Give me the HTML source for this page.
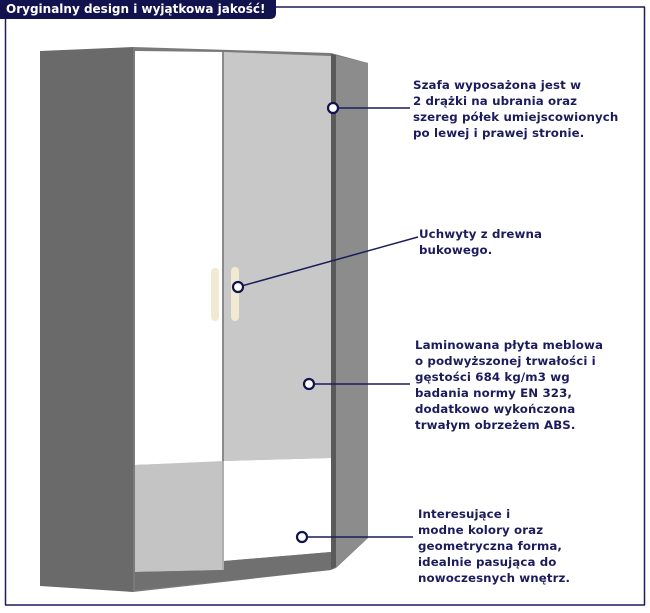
<!DOCTYPE html>
<html><head><meta charset="utf-8"><style>
html,body{margin:0;padding:0;background:#fff;}
body{width:650px;height:613px;position:relative;overflow:hidden;font-family:"DejaVu Sans","Liberation Sans",sans-serif;}
.t{position:absolute;color:#1c1c5c;font-weight:bold;font-size:11.8px;letter-spacing:0.1px;line-height:16px;white-space:nowrap;}
</style></head><body>
<svg width="650" height="613" style="position:absolute;left:0;top:0">
<line x1="5.5" y1="18" x2="5.5" y2="605" stroke="#1c1c5c" stroke-width="1.5"/>
<line x1="5" y1="605" x2="645" y2="605" stroke="#1c1c5c" stroke-width="1.5"/>
<line x1="644.5" y1="7" x2="644.5" y2="605" stroke="#1c1c5c" stroke-width="1.5"/>
<line x1="270" y1="7" x2="645" y2="7" stroke="#1c1c5c" stroke-width="1.5"/>
<path d="M0 0 H276 V13 Q276 19 270 19 H0 Z" fill="#12124e"/>
<polygon points="40,51 133,47 133,592 40,586" fill="#6a6a6a"/>
<polygon points="133,47 331,53 368,63 368,538 336,568 331,570 133,592" fill="#7a7a7a"/>
<polygon points="333,55 368,63 368,538 335,568" fill="#8c8c8c"/>
<polygon points="331,54 336,55 336,567 331,569" fill="#5a5a5a"/>
<polygon points="135,51 222,52 222,462 135,465" fill="#ffffff"/>
<polygon points="224,52 331,56 331,458 224,461" fill="#c8c8c8"/>
<polygon points="135,465 224,461 224,570 135,572" fill="#c4c4c4"/>
<polygon points="224,461 331,458 331,552 224,561" fill="#ffffff"/>
<polygon points="224,561 331,552 331,570 135,590 135,572 224,570" fill="#707070"/>
<line x1="223" y1="52" x2="223" y2="570" stroke="#999" stroke-width="1"/>
<rect x="211" y="268" width="8" height="53" rx="4" fill="#f2ead0"/>
<rect x="231" y="267" width="8" height="54" rx="4" fill="#f2ead0"/>
<g stroke="#1c1c5c" stroke-width="1.5" fill="#fff">
<line x1="333" y1="108" x2="410" y2="108"/>
<line x1="238" y1="287" x2="418" y2="237"/>
<line x1="309" y1="384" x2="410" y2="384"/>
<line x1="302" y1="537" x2="413" y2="537"/>
</g>
<g stroke="#12124e" stroke-width="2.2" fill="#fff">
<circle cx="333" cy="108" r="5"/>
<circle cx="238" cy="287" r="5"/>
<circle cx="309" cy="384" r="5"/>
<circle cx="302" cy="537" r="5"/>
</g>
</svg>
<div class="t" style="left:6px;top:1px;color:#fff;font-size:12px;letter-spacing:0;line-height:16px">Oryginalny design i wyjątkowa jakość!</div>
<div class="t" style="left:413px;top:77px">Szafa wyposażona jest w<br>2 drążki na ubrania oraz<br>szereg półek umiejscowionych<br>po lewej i prawej stronie.</div>
<div class="t" style="left:419px;top:226px">Uchwyty z drewna<br>bukowego.</div>
<div class="t" style="left:415px;top:337px">Laminowana płyta meblowa<br>o podwyższonej trwałości i<br>gęstości 684 kg/m3 wg<br>badania normy EN 323,<br>dodatkowo wykończona<br>trwałym obrzeżem ABS.</div>
<div class="t" style="left:418px;top:506px">Interesujące i<br>modne kolory oraz<br>geometryczna forma,<br>idealnie pasująca do<br>nowoczesnych wnętrz.</div>
</body></html>
